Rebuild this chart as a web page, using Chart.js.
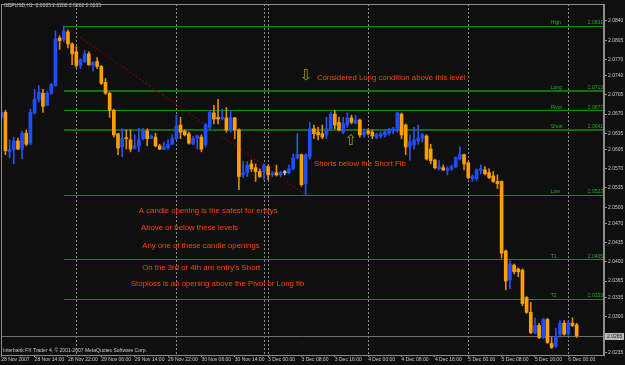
<!DOCTYPE html>
<html>
<head>
<meta charset="utf-8">
<script src="https://cdn.jsdelivr.net/npm/chart.js@4.4.1/dist/chart.umd.min.js"></script>
<style>
    html, body { margin: 0; padding: 0; background: #0f0f0f; }
    #wrap { width: 625px; height: 365px; }
</style>
</head>
<body>
<div id="wrap"><canvas id="chart" width="625" height="365"></canvas></div>
<script>
// GBPUSD H1, bar 0 = 28 Nov 2007 06:00
const opens = [
    2.0664, 2.0673, 2.0601, 2.0605, 2.0621, 2.0606, 2.0635, 2.0617, 2.0672, 2.0697,
    2.0708, 2.0686, 2.0708, 2.0722, 2.0809, 2.0806, 2.0820, 2.0798, 2.0784, 2.0759,
    2.0766, 2.0780, 2.0759, 2.0766, 2.0757, 2.0728, 2.0708, 2.0677, 2.0634, 2.0610,
    2.0626, 2.0623, 2.0608, 2.0612, 2.0625, 2.0639, 2.0626, 2.0628, 2.0612, 2.0606,
    2.0608, 2.0615, 2.0625, 2.0650, 2.0639, 2.0634, 2.0615, 2.0626, 2.0628, 2.0614,
    2.0646, 2.0672, 2.0664, 2.0661, 2.0663, 2.0641, 2.0663, 2.0641, 2.0559, 2.0563,
    2.0579, 2.0572, 2.0565, 2.0565, 2.0574, 2.0559, 2.0563, 2.0559, 2.0563, 2.0563,
    2.0570, 2.0590, 2.0596, 2.0543, 2.0592, 2.0643, 2.0637, 2.0634, 2.0632, 2.0643,
    2.0670, 2.0655, 2.0637, 2.0650, 2.0663, 2.0653, 2.0659, 2.0632, 2.0639, 2.0637,
    2.0628, 2.0630, 2.0632, 2.0635, 2.0639, 2.0641, 2.0670, 2.0650, 2.0610, 2.0614,
    2.0621, 2.0626, 2.0630, 2.0606, 2.0586, 2.0570, 2.0572, 2.0567, 2.0570, 2.0574,
    2.0588, 2.0596, 2.0581, 2.0552, 2.0552, 2.0567, 2.0568, 2.0563, 2.0557, 2.0547,
    2.0547, 2.0420, 2.0367, 2.0394, 2.0387, 2.0385, 2.0335, 2.0308, 2.0271, 2.0284,
    2.0262, 2.0295, 2.0251, 2.0246, 2.0268, 2.0288, 2.0269, 2.0288, 2.0285
];
const highs = [
    2.0692, 2.0677, 2.0623, 2.0628, 2.0626, 2.0639, 2.0641, 2.0679, 2.0715, 2.0722,
    2.0715, 2.0711, 2.0726, 2.0822, 2.0813, 2.0831, 2.0824, 2.0800, 2.0793, 2.0771,
    2.0786, 2.0784, 2.0766, 2.0773, 2.0759, 2.0735, 2.0710, 2.0679, 2.0635, 2.0643,
    2.0641, 2.0641, 2.0632, 2.0644, 2.0644, 2.0643, 2.0632, 2.0635, 2.0615, 2.0619,
    2.0623, 2.0632, 2.0668, 2.0664, 2.0641, 2.0637, 2.0630, 2.0632, 2.0632, 2.0653,
    2.0677, 2.0686, 2.0697, 2.0679, 2.0682, 2.0677, 2.0664, 2.0643, 2.0583, 2.0583,
    2.0586, 2.0579, 2.0570, 2.0579, 2.0577, 2.0565, 2.0577, 2.0565, 2.0567, 2.0577,
    2.0597, 2.0634, 2.0597, 2.0597, 2.0655, 2.0650, 2.0646, 2.0650, 2.0664, 2.0673,
    2.0677, 2.0664, 2.0664, 2.0672, 2.0668, 2.0668, 2.0661, 2.0643, 2.0643, 2.0641,
    2.0635, 2.0637, 2.0641, 2.0644, 2.0646, 2.0673, 2.0672, 2.0652, 2.0632, 2.0646,
    2.0650, 2.0635, 2.0632, 2.0615, 2.0588, 2.0585, 2.0577, 2.0574, 2.0577, 2.0592,
    2.0610, 2.0597, 2.0583, 2.0559, 2.0570, 2.0577, 2.0574, 2.0570, 2.0565, 2.0559,
    2.0548, 2.0422, 2.0402, 2.0396, 2.0389, 2.0387, 2.0337, 2.0326, 2.0298, 2.0288,
    2.0297, 2.0297, 2.0262, 2.0279, 2.0293, 2.0293, 2.0293, 2.0298, 2.0288
];
const lows = [
    2.0655, 2.0596, 2.0590, 2.0579, 2.0605, 2.0588, 2.0612, 2.0614, 2.0670, 2.0692,
    2.0673, 2.0686, 2.0706, 2.0721, 2.0788, 2.0802, 2.0791, 2.0760, 2.0755, 2.0753,
    2.0764, 2.0759, 2.0749, 2.0753, 2.0724, 2.0706, 2.0664, 2.0628, 2.0596, 2.0592,
    2.0606, 2.0601, 2.0606, 2.0601, 2.0623, 2.0612, 2.0625, 2.0610, 2.0605, 2.0605,
    2.0606, 2.0614, 2.0623, 2.0625, 2.0630, 2.0615, 2.0614, 2.0606, 2.0601, 2.0610,
    2.0643, 2.0652, 2.0652, 2.0659, 2.0637, 2.0637, 2.0625, 2.0532, 2.0554, 2.0556,
    2.0565, 2.0547, 2.0554, 2.0550, 2.0550, 2.0556, 2.0557, 2.0556, 2.0559, 2.0561,
    2.0568, 2.0588, 2.0538, 2.0523, 2.0588, 2.0625, 2.0623, 2.0625, 2.0625, 2.0641,
    2.0643, 2.0639, 2.0634, 2.0646, 2.0652, 2.0652, 2.0628, 2.0628, 2.0632, 2.0625,
    2.0625, 2.0626, 2.0628, 2.0632, 2.0634, 2.0637, 2.0625, 2.0596, 2.0586, 2.0606,
    2.0615, 2.0619, 2.0586, 2.0579, 2.0570, 2.0568, 2.0567, 2.0559, 2.0567, 2.0572,
    2.0586, 2.0568, 2.0552, 2.0547, 2.0548, 2.0561, 2.0559, 2.0552, 2.0545, 2.0534,
    2.0407, 2.0349, 2.0351, 2.0378, 2.0373, 2.0320, 2.0306, 2.0269, 2.0269, 2.0260,
    2.0260, 2.0251, 2.0242, 2.0244, 2.0262, 2.0266, 2.0266, 2.0282, 2.0262
];
const closes = [
    2.0673, 2.0603, 2.0605, 2.0621, 2.0606, 2.0635, 2.0615, 2.0673, 2.0697, 2.0710,
    2.0684, 2.0708, 2.0724, 2.0807, 2.0804, 2.0822, 2.0798, 2.0780, 2.0759, 2.0769,
    2.0780, 2.0760, 2.0764, 2.0757, 2.0726, 2.0708, 2.0677, 2.0632, 2.0608, 2.0625,
    2.0625, 2.0606, 2.0612, 2.0623, 2.0639, 2.0625, 2.0630, 2.0612, 2.0606, 2.0610,
    2.0615, 2.0625, 2.0648, 2.0637, 2.0632, 2.0617, 2.0625, 2.0630, 2.0606, 2.0650,
    2.0673, 2.0661, 2.0661, 2.0664, 2.0641, 2.0664, 2.0641, 2.0556, 2.0563, 2.0577,
    2.0570, 2.0565, 2.0556, 2.0576, 2.0559, 2.0561, 2.0559, 2.0563, 2.0563, 2.0570,
    2.0590, 2.0596, 2.0541, 2.0596, 2.0643, 2.0634, 2.0632, 2.0628, 2.0643, 2.0670,
    2.0650, 2.0641, 2.0652, 2.0663, 2.0655, 2.0659, 2.0632, 2.0637, 2.0635, 2.0630,
    2.0632, 2.0634, 2.0637, 2.0641, 2.0643, 2.0672, 2.0632, 2.0610, 2.0619, 2.0623,
    2.0626, 2.0632, 2.0588, 2.0585, 2.0572, 2.0574, 2.0568, 2.0570, 2.0574, 2.0590,
    2.0596, 2.0579, 2.0554, 2.0556, 2.0568, 2.0570, 2.0561, 2.0554, 2.0547, 2.0543,
    2.0416, 2.0365, 2.0396, 2.0382, 2.0382, 2.0324, 2.0308, 2.0271, 2.0284, 2.0262,
    2.0295, 2.0253, 2.0244, 2.0264, 2.0288, 2.0268, 2.0289, 2.0284, 2.0265
];

// time axis: one label every 8 bars
const timeLabelBars = [0, 8, 16, 24, 32, 40, 48, 56, 64, 72, 80, 88, 96, 104, 112, 120, 128, 136];
const timeLabels = ['28 Nov 2007', '28 Nov 14:00', '28 Nov 22:00', '29 Nov 06:00', '29 Nov 14:00',
    '29 Nov 22:00', '30 Nov 06:00', '30 Nov 14:00', '3 Dec 00:00', '3 Dec 08:00', '3 Dec 16:00',
    '4 Dec 00:00', '4 Dec 08:00', '4 Dec 16:00', '5 Dec 00:00', '5 Dec 08:00', '5 Dec 16:00', '6 Dec 00:00'];
const separatorBars = [18, 42, 63, 64, 88, 112, 136];
const priceTicks = [2.0840, 2.0805, 2.0770, 2.0740, 2.0705, 2.0670, 2.0635, 2.0605, 2.0570,
    2.0535, 2.0500, 2.0470, 2.0435, 2.0400, 2.0365, 2.0335, 2.0300, 2.0235];
const bidPrice = 2.0265;

// fibo levels drawn from the high bar
const fibNames = ['High', 'Long', 'Pivot', 'Short', 'Low', 'T1', 'T2'];
const fibValues = [2.0831, 2.0713, 2.0677, 2.0641, 2.0523, 2.0405, 2.0333];
const fibStartBar = 15;
const trendBars = [15, 73];
const trendPrices = [2.0831, 2.0523];

const noteTexts = [
    'Considered Long condition above this level',
    'Shorts below the Short Fib',
    'A candle opening is the safest for entrys',
    'Above or below these levels',
    'Any one of these candle openings',
    "On the 3rd or 4th are entry's Short",
    'Stoploss is an opening above the Pivot or Long fib'
];
const noteBars = [75.7, 75.0, 33.0, 33.5, 33.8, 33.8, 31.1];
const notePrices = [2.0736, 2.0579, 2.0494, 2.0462, 2.0429, 2.0389, 2.0360];
const arrowGlyphs = ['\u21E9', '\u21E7'];
const arrowBars = [73.1, 83.9];
const arrowPrices = [2.0740, 2.0620];

const BG = '#0f0f0f';
const BULL = '#1e4fff';
const BEAR = '#ffa000';
const TXT = '#c8c8c8';
const SMALL = '5px "Liberation Sans", Arial, sans-serif';

const bars = opens.map((_, k) => k);
function candleColor(k, bull, bear) {
    if (opens[k] === closes[k]) return '#c8c8c8';
    return closes[k] > opens[k] ? bull : bear;
}

const mtPlugin = {
    id: 'mt4',
    beforeDraw(chart) {
        const ctx = chart.ctx;
        ctx.save();
        ctx.fillStyle = BG;
        ctx.fillRect(0, 0, chart.width, chart.height);
        ctx.restore();
    },
    beforeDatasetsDraw(chart) {
        const { ctx, chartArea: a, scales: { x, y } } = chart;
        ctx.save();
        ctx.beginPath();
        ctx.rect(a.left, a.top, a.right - a.left, a.bottom - a.top);
        ctx.clip();

        // period separators
        ctx.strokeStyle = '#8a8a8a';
        ctx.lineWidth = 1;
        ctx.setLineDash([2, 2]);
        separatorBars.forEach(k => {
            const px = Math.round(x.getPixelForValue(k)) + 0.5;
            ctx.beginPath();
            ctx.moveTo(px, a.top);
            ctx.lineTo(px, a.bottom);
            ctx.stroke();
        });
        ctx.setLineDash([]);

        // bid line
        ctx.strokeStyle = '#707070';
        const by = Math.round(y.getPixelForValue(bidPrice)) + 0.5;
        ctx.beginPath();
        ctx.moveTo(a.left, by);
        ctx.lineTo(a.right, by);
        ctx.stroke();

        // fibo lines, filled as 1-2 px rects for crisp colour
        const fx = Math.round(x.getPixelForValue(fibStartBar));
        fibValues.forEach((v, n) => {
            const thick = fibNames[n] === 'Long' || fibNames[n] === 'Short';
            ctx.fillStyle = thick ? '#107010' : '#009600';
            const py = Math.round(y.getPixelForValue(v));
            ctx.fillRect(fx, thick ? py - 1 : py, a.right - fx, thick ? 2 : 1);
        });

        // trend line
        ctx.strokeStyle = '#8b0000';
        ctx.lineWidth = 1.2;
        ctx.setLineDash([1.5, 2.5]);
        ctx.beginPath();
        ctx.moveTo(x.getPixelForValue(trendBars[0]), y.getPixelForValue(trendPrices[0]));
        ctx.lineTo(x.getPixelForValue(trendBars[1]), y.getPixelForValue(trendPrices[1]));
        ctx.stroke();
        ctx.restore();
    },
    afterDatasetsDraw(chart) {
        const { ctx, chartArea: a, scales: { x, y } } = chart;
        ctx.save();

        // fibo labels
        ctx.font = SMALL;
        ctx.fillStyle = '#2aa82a';
        ctx.textBaseline = 'bottom';
        fibValues.forEach((v, n) => {
            const py = y.getPixelForValue(v) - 0.5;
            ctx.textAlign = 'left';
            ctx.fillText(fibNames[n], x.getPixelForValue(131.8), py);
            ctx.textAlign = 'right';
            ctx.fillText(v.toFixed(4), a.right - 1, py);
        });

        // notes
        ctx.font = '7.8px "Liberation Sans", Arial, sans-serif';
        ctx.fillStyle = '#ff4500';
        ctx.textAlign = 'left';
        ctx.textBaseline = 'middle';
        noteTexts.forEach((t, n) => {
            ctx.fillText(t, x.getPixelForValue(noteBars[n]), y.getPixelForValue(notePrices[n]));
        });

        // arrows
        ctx.font = '15px "DejaVu Sans", sans-serif';
        ctx.fillStyle = '#9a9a1a';
        ctx.textAlign = 'center';
        arrowGlyphs.forEach((g, n) => {
            ctx.fillText(g, x.getPixelForValue(arrowBars[n]), y.getPixelForValue(arrowPrices[n]));
        });

        // header and footer
        ctx.font = SMALL;
        ctx.fillStyle = TXT;
        ctx.textAlign = 'left';
        const last = opens.length - 1;
        ctx.fillText('GBPUSD,H1  ' + [opens[last], highs[last], lows[last], closes[last]].map(v => v.toFixed(4)).join(' '), 4, 6);
        ctx.fillText('Interbank FX Trader 4, \u00A9 2001-2007 MetaQuotes Software Corp.', 3, 351);

        // frame
        ctx.strokeStyle = '#8c8c8c';
        ctx.lineWidth = 1;
        ctx.strokeRect(a.left + 0.5, a.top + 0.5, a.right - a.left - 1, a.bottom - a.top);

        // bid price box
        const by = Math.round(y.getPixelForValue(bidPrice));
        ctx.fillStyle = '#b8b8b8';
        ctx.fillRect(a.right + 1, by - 3, 19, 7);
        ctx.fillStyle = '#202020';
        ctx.font = SMALL;
        ctx.textBaseline = 'middle';
        ctx.fillText(bidPrice.toFixed(4), a.right + 3, by + 0.5);
        ctx.restore();
    }
};

new Chart(document.getElementById('chart'), {
    type: 'bar',
    data: {
        datasets: [{
            label: 'wicks',
            data: bars.map(k => ({ x: k, y: [lows[k], highs[k]] })),
            backgroundColor: bars.map(k => candleColor(k, '#2a55e8', '#e08c00')),
            barThickness: 1,
            grouped: false,
            order: 2
        }, {
            label: 'bodies',
            data: bars.map(k => ({ x: k, y: [opens[k], closes[k]] })),
            backgroundColor: bars.map(k => candleColor(k, BULL, BEAR)),
            barThickness: 3,
            minBarLength: 1,
            grouped: false,
            order: 1
        }]
    },
    options: {
        responsive: false,
        devicePixelRatio: 1,
        animation: false,
        layout: { padding: { left: 1, top: 1, right: 0, bottom: 0 } },
        plugins: {
            legend: { display: false },
            tooltip: { enabled: false }
        },
        scales: {
            x: {
                type: 'linear',
                min: -0.06,
                max: 144.56,
                offset: false,
                afterBuildTicks: s => { s.ticks = timeLabelBars.map(v => ({ value: v })); },
                afterFit: s => { s.height = 10; },
                ticks: {
                    autoSkip: false,
                    maxRotation: 0,
                    minRotation: 0,
                    align: 'start',
                    padding: 0,
                    color: TXT,
                    font: { family: '"Liberation Sans", Arial, sans-serif', size: 5 },
                    callback: (v, i) => timeLabels[i]
                },
                grid: { offset: false, drawOnChartArea: false, drawTicks: true, tickLength: 2, color: '#8c8c8c' },
                border: { display: false }
            },
            y: {
                position: 'right',
                min: 2.0230,
                max: 2.0871,
                afterBuildTicks: s => { s.ticks = priceTicks.map(v => ({ value: v })); },
                afterFit: s => { s.width = 21; },
                ticks: {
                    autoSkip: false,
                    padding: 1,
                    color: TXT,
                    font: { family: '"Liberation Sans", Arial, sans-serif', size: 5 },
                    callback: v => v.toFixed(4)
                },
                grid: { drawOnChartArea: false, drawTicks: true, tickLength: 3, color: '#8c8c8c' },
                border: { display: true, color: '#8c8c8c' }
            }
        }
    },
    plugins: [mtPlugin]
});
</script>
</body>
</html>
